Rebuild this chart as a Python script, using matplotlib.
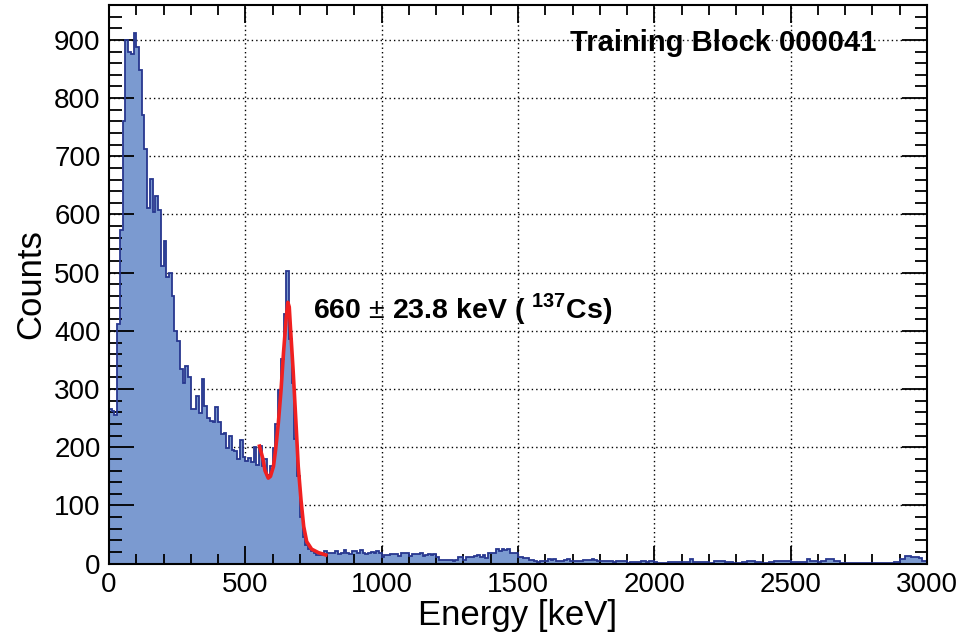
import numpy as np
import matplotlib
matplotlib.use("Agg")
import matplotlib.pyplot as plt
from matplotlib.ticker import MultipleLocator

plt.rcParams['font.family'] = ['Liberation Sans', 'DejaVu Sans']
plt.rcParams['mathtext.fontset'] = 'custom'
plt.rcParams['mathtext.rm'] = 'Liberation Sans'
plt.rcParams['mathtext.bf'] = 'Liberation Sans:bold'

# histogram: 300 bins of 10 keV, 0..3000 keV
counts_0_1000 = [
    265, 262, 255, 411, 573, 761, 899, 880, 875, 911,
    887, 848, 771, 712, 611, 661, 605, 631, 608, 512,
    555, 492, 499, 460, 400, 383, 335, 310, 339, 320,
    265, 265, 288, 259, 317, 271, 251, 245, 243, 270,
    243, 222, 225, 199, 219, 196, 193, 180, 213, 184,
    176, 182, 175, 201, 170, 202, 167, 180, 153, 168,
    199, 240, 299, 351, 429, 503, 386, 310, 215, 150,
    80, 45, 32, 26, 21, 18, 15, 15, 15, 22,
    18, 19, 18, 21, 16, 19, 24, 18, 16, 21,
    22, 19, 24, 18, 16, 19, 20, 19, 22, 19,
]
counts_1000_2000 = [
    11, 15, 15, 17, 17, 17, 13, 18, 18, 18,
    13, 17, 17, 17, 18, 14, 15, 16, 15, 17,
    12, 6, 6, 7, 6, 6, 5, 6, 12, 12,
    6, 11, 11, 11, 13, 15, 12, 15, 9, 18,
    18, 18, 25, 22, 26, 24, 26, 18, 18, 18,
    12, 12, 9, 9, 6, 6, 4, 3, 5, 5,
    5, 8, 7, 8, 5, 5, 5, 7, 8, 4,
    4, 4, 5, 5, 6, 6, 6, 8, 7, 4,
    4, 5, 5, 5, 5, 3, 4, 4, 4, 4,
    2, 3, 3, 3, 3, 5, 5, 3, 5, 5,
]
counts_2000_3000 = [
    3, 1, 1, 1, 1, 3, 3, 3, 3, 3,
    3, 3, 3, 8, 3, 3, 3, 3, 3, 3,
    1, 1, 5, 5, 5, 5, 3, 3, 3, 1,
    1, 1, 3, 3, 5, 5, 5, 3, 3, 1,
    1, 1, 3, 3, 5, 5, 5, 5, 5, 5,
    3, 3, 3, 3, 3, 3, 8, 5, 5, 5,
    3, 5, 5, 8, 8, 8, 4, 4, 2, 2,
    1, 2, 2, 1, 2, 2, 2, 2, 2, 2,
    2, 2, 2, 1, 1, 1, 1, 1, 3, 3,
    8, 8, 13, 13, 11, 11, 11, 9, 5, 5,
]
counts = np.array(counts_0_1000 + counts_1000_2000 + counts_2000_3000)
edges = np.linspace(0, 3000, len(counts) + 1)

# fitted peak curve
fit_energy = [552, 565, 572, 584, 592, 603, 611, 621, 631, 640, 650, 656,
              661, 665, 675, 685, 694, 704, 714, 725, 743, 768, 795]
fit_counts = [202, 179, 160, 147, 150, 167, 196, 242, 299, 363, 423, 449,
              441, 409, 334, 248, 167, 110, 64, 38, 25, 19, 15]

peak_label = r"660 $\pm$ 23.8 keV ( $^{\mathbf{137}}$Cs)"
block_label = "Training Block 000041"

fig = plt.figure(figsize=(9.64, 6.36), dpi=100)
ax = fig.add_axes([0.1131, 0.1137, 0.8485, 0.8785])

ax.stairs(counts, edges, fill=True, color='#7b9ad0', zorder=1)
ax.stairs(counts, edges, color='#27378f', linewidth=1.3, baseline=0, zorder=2)
ax.plot(fit_energy, fit_counts, color='#f02020', linewidth=2.6, zorder=3)

ax.set_xlim(0, 3000)
ax.set_ylim(0, 960)
ax.xaxis.set_major_locator(MultipleLocator(500))
ax.xaxis.set_minor_locator(MultipleLocator(100))
ax.yaxis.set_major_locator(MultipleLocator(100))
ax.yaxis.set_minor_locator(MultipleLocator(20))

# dotted grid behind the filled histogram
for xv in ax.get_xticks():
    if 0 < xv < 3000:
        ax.axvline(xv, color='black', linestyle=(0, (1, 2.2)), linewidth=1.0, zorder=0.5)
for yv in ax.get_yticks():
    if 0 < yv < 960:
        ax.axhline(yv, color='black', linestyle=(0, (1, 2.2)), linewidth=1.0, zorder=0.5)

ax.tick_params(axis='both', which='both', direction='in', top=True, right=True,
               width=1.3, color='black', labelsize=20, pad=6)
ax.tick_params(axis='x', which='major', length=13)
ax.tick_params(axis='x', which='minor', length=7)
ax.tick_params(axis='y', which='major', length=18)
ax.tick_params(axis='y', which='minor', length=9)
for sp in ax.spines.values():
    sp.set_linewidth(1.5)
    sp.set_zorder(4)

ax.set_xlabel("Energy [keV]", fontsize=25, labelpad=1)
ax.set_ylabel("Counts", fontsize=25, labelpad=5)

ax.text(748, 437, peak_label, fontsize=20.5, fontweight='bold', ha='left', va='center')
ax.text(2815, 894, block_label, fontsize=21, fontweight='bold', ha='right', va='center')

fig.savefig("out.png", dpi=100)
